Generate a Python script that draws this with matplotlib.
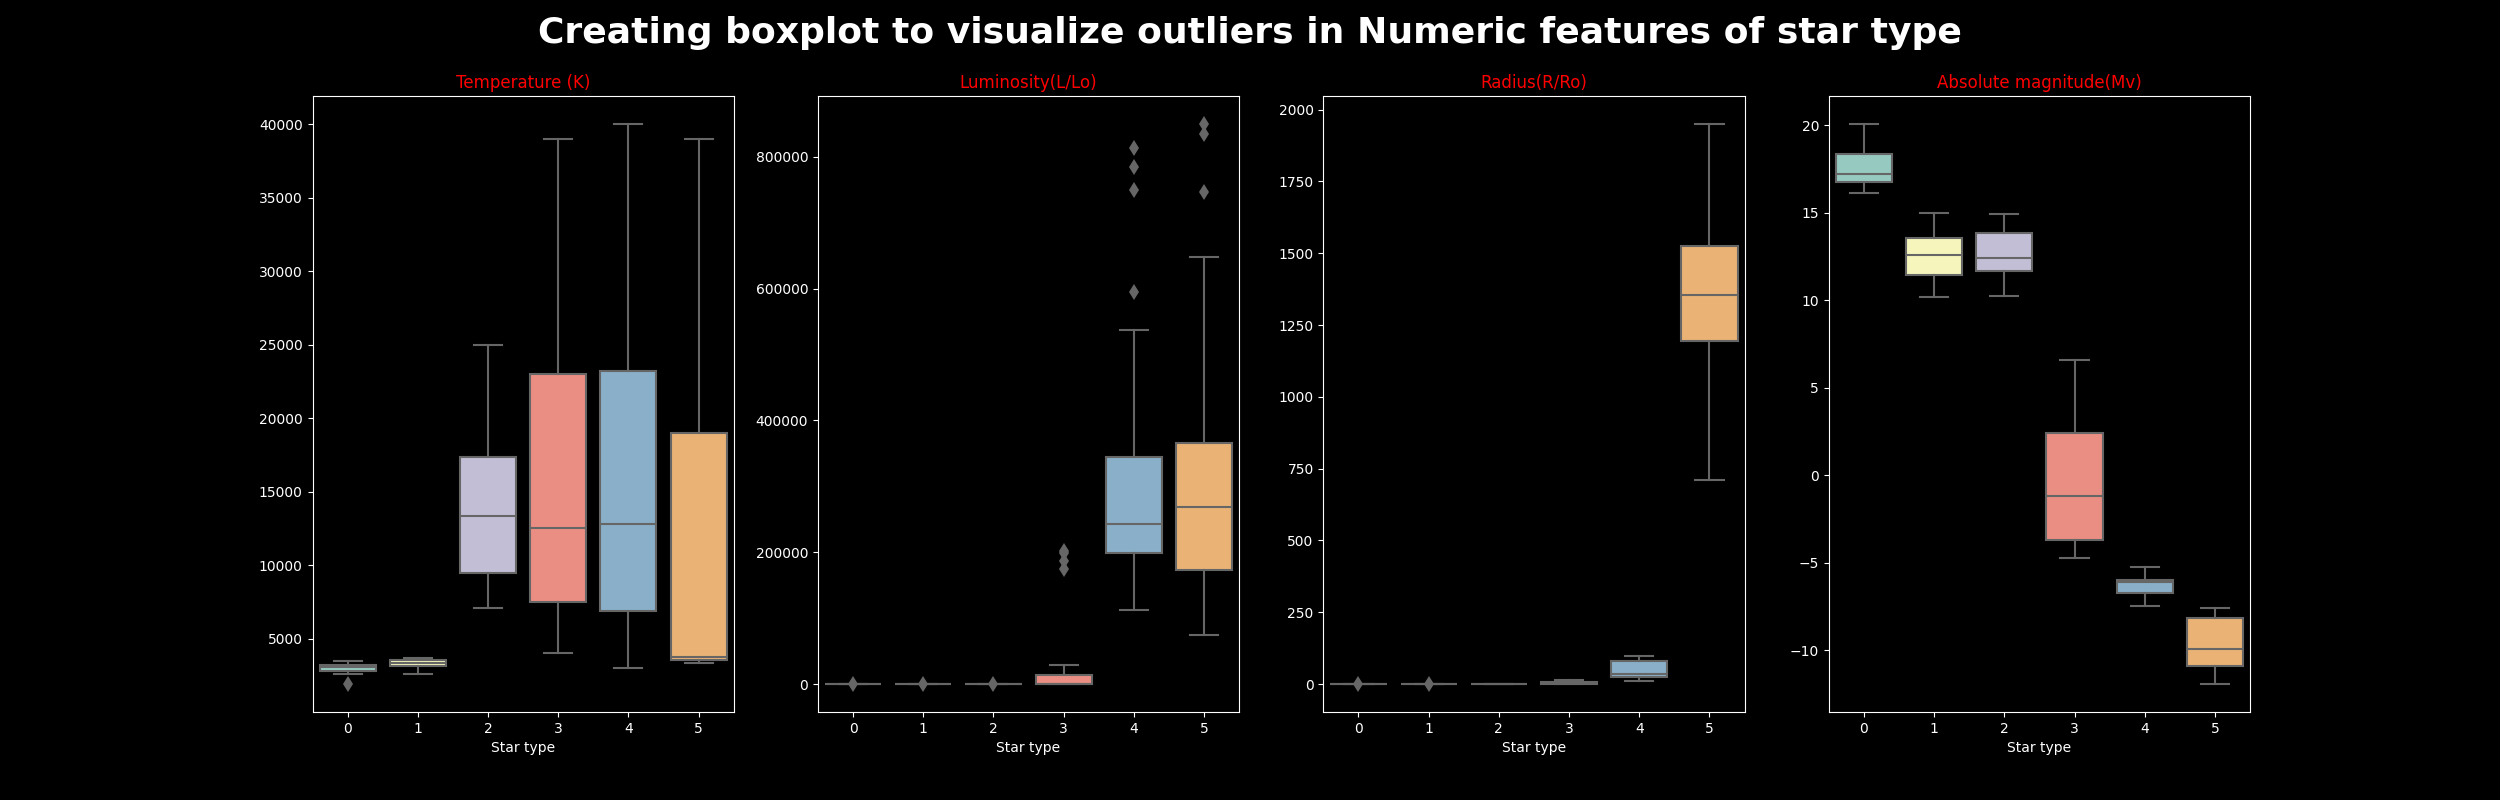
import colorsys
import numpy as np
import matplotlib
matplotlib.use('Agg')
import matplotlib.pyplot as plt

plt.style.use('dark_background')

star_types = [0, 1, 2, 3, 4, 5]
features = ['Temperature (K)', 'Luminosity(L/Lo)', 'Radius(R/Ro)', 'Absolute magnitude(Mv)']

# box statistics per star type
temp_q1 = [2830, 3140, 9490, 7510, 6920, 3590]
temp_med = [3090, 3400, 13380, 12560, 12810, 3790]
temp_q3 = [3250, 3540, 17380, 23020, 23220, 18990]
temp_lo = [2630, 2630, 7120, 4040, 3030, 3370]
temp_hi = [3510, 3730, 25000, 38980, 40000, 38960]
temp_fliers = [[1939], [], [], [], [], []]

lum_q1 = [0.00055, 0.0012, 0.0003, 0.5, 198100, 173000]
lum_med = [0.0008, 0.0017, 0.0009, 4.2, 243400, 267900]
lum_q3 = [0.0012, 0.0032, 0.0029, 13840, 344000, 365400]
lum_lo = [0.00014, 0.00045, 0.0001, 0.0008, 112600, 74800]
lum_hi = [0.0023, 0.0056, 0.0068, 28930, 537100, 647800]
lum_fliers = [[0.0056], [0.0095], [0.0153], [174200, 186800, 199400, 202500], [594300, 749100, 784300, 812600], [747200, 834000, 849700]]

rad_q1 = [0.098, 0.13, 0.009, 1.0, 24.5, 1195]
rad_med = [0.12, 0.18, 0.011, 3.0, 36, 1355]
rad_q3 = [0.15, 0.34, 0.013, 8.7, 79, 1524]
rad_lo = [0.084, 0.11, 0.0084, 0.8, 11.5, 711]
rad_hi = [0.19, 0.63, 0.015, 13, 98, 1950]
rad_fliers = [[0.057], [0.73], [], [], [], []]

mag_q1 = [16.73, 11.42, 11.64, -3.67, -6.75, -10.88]
mag_med = [17.18, 12.58, 12.39, -1.16, -6.11, -9.91]
mag_q3 = [18.36, 13.55, 13.84, 2.44, -6.0, -8.13]
mag_lo = [16.11, 10.17, 10.21, -4.72, -7.44, -11.92]
mag_hi = [20.06, 14.95, 14.9, 6.56, -5.21, -7.56]
mag_fliers = [[], [], [], [], [], []]

all_stats = [
    (temp_q1, temp_med, temp_q3, temp_lo, temp_hi, temp_fliers),
    (lum_q1, lum_med, lum_q3, lum_lo, lum_hi, lum_fliers),
    (rad_q1, rad_med, rad_q3, rad_lo, rad_hi, rad_fliers),
    (mag_q1, mag_med, mag_q3, mag_lo, mag_hi, mag_fliers),
]

# seaborn-like Set3 palette, desaturated
set3 = ['#8dd3c7', '#ffffb3', '#bebada', '#fb8072', '#80b1d3', '#fdb462']
colors = []
for c in set3:
    h, l, s = colorsys.rgb_to_hls(*matplotlib.colors.to_rgb(c))
    colors.append(colorsys.hls_to_rgb(h, l, s * 0.75))
gray = '#666666'

fig, axes = plt.subplots(1, 4, figsize=(25, 8), dpi=100)
for ax, name, st in zip(axes, features, all_stats):
    q1, med, q3, lo, hi, fl = st
    stats = []
    for i in range(len(star_types)):
        stats.append(dict(q1=q1[i], med=med[i], q3=q3[i], whislo=lo[i], whishi=hi[i], fliers=fl[i]))
    bp = ax.bxp(stats, positions=star_types, widths=0.8, patch_artist=True,
                boxprops=dict(edgecolor=gray, linewidth=1.5),
                medianprops=dict(color=gray, linewidth=1.5),
                whiskerprops=dict(color=gray, linewidth=1.5),
                capprops=dict(color=gray, linewidth=1.5),
                flierprops=dict(marker='d', markersize=8, markerfacecolor=gray,
                                markeredgecolor=gray, markeredgewidth=0))
    for patch, col in zip(bp['boxes'], colors):
        patch.set_facecolor(col)
    ax.set_xlim(-0.5, 5.5)
    ax.set_xticks(star_types)
    ax.set_xticklabels([str(s) for s in star_types])
    ax.set_xlabel('Star type')
    ax.set_ylabel('')
    ax.set_title(name, color='red', fontsize=12)

fig.suptitle('Creating boxplot to visualize outliers in Numeric features of star type',
             fontsize=26, fontweight='bold')
plt.savefig('out.png')
